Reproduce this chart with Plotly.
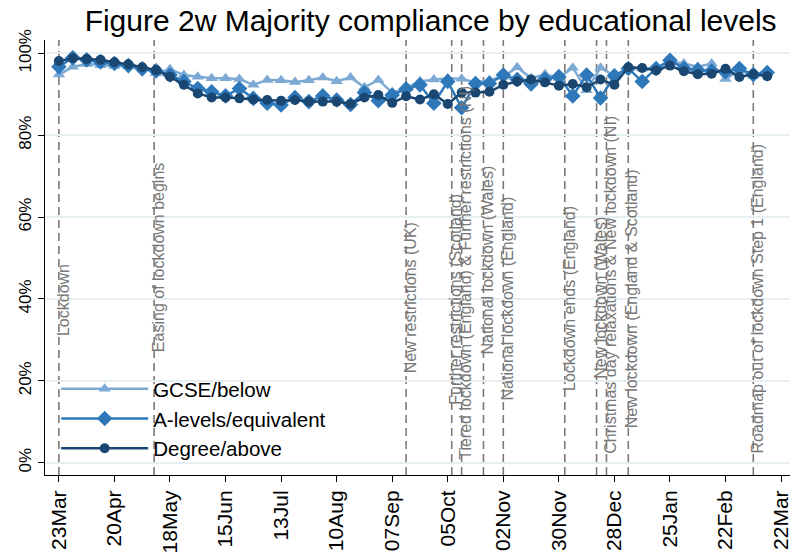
import datetime as dt
import plotly.graph_objects as go

# ---------------- data ----------------
start = dt.date(2020, 3, 23)
n_weeks = 52
dates = [start + dt.timedelta(days=7 * k) for k in range(n_weeks)]

gcse_below = [94.8, 96.7, 97.4, 97.1, 96.9, 96.9, 96.6, 95.1, 96.1, 94.7,
              94.3, 93.9, 93.9, 93.7, 92.3, 93.5, 93.4, 93.0, 93.4, 94.1,
              93.2, 94.1, 91.7, 93.5, 90.4, 91.5, 93.2, 93.6, 93.9, 93.8,
              92.9, 93.5, 94.3, 96.6, 93.9, 94.9, 94.0, 96.5, 91.0, 96.5,
              94.5, 96.5, 96.3, 96.3, 97.9, 97.5, 96.7, 97.5, 93.7, 95.9,
              94.5, 95.1]
a_levels = [96.7, 98.9, 98.4, 97.9, 97.5, 97.0, 96.2, 95.7, 94.7, 93.1,
            91.4, 90.6, 89.6, 91.4, 89.0, 87.8, 87.4, 89.2, 88.2, 89.6,
            88.6, 87.5, 90.4, 88.4, 89.8, 91.3, 92.3, 87.8, 93.1, 86.7,
            92.6, 92.6, 94.7, 93.6, 92.5, 93.7, 94.3, 89.6, 94.7, 89.1,
            94.5, 96.3, 93.1, 96.3, 98.3, 96.3, 95.9, 95.7, 95.5, 96.3,
            94.8, 95.3]
degree_above = [98.1, 98.8, 98.6, 98.4, 97.8, 97.3, 96.6, 95.9, 94.3, 92.3,
                90.2, 89.2, 89.2, 89.0, 88.7, 88.6, 88.4, 88.6, 88.2, 88.2,
                88.2, 87.6, 89.2, 89.8, 87.9, 89.5, 88.7, 90.0, 87.6, 90.4,
                90.4, 90.6, 92.3, 93.1, 93.6, 92.9, 92.1, 92.5, 91.7, 93.6,
                92.3, 96.6, 96.4, 95.8, 97.0, 95.6, 94.9, 95.0, 96.2, 94.2,
                94.9, 94.4]

series_names = ["GCSE/below", "A-levels/equivalent", "Degree/above"]

event_dates = ["2020-03-23", "2020-05-10", "2020-09-14", "2020-10-07",
               "2020-10-12", "2020-10-23", "2020-11-02", "2020-12-03",
               "2020-12-19", "2020-12-24", "2021-01-04", "2021-03-08"]
event_labels = ["Lockdown", "Easing of lockdown begins", "New restrictions (UK)",
                "Further restrictions (Scotland)",
                "Tiered lockdown (England) & Further restrictions (NI)",
                "National lockdown (Wales)", "National lockdown (England)",
                "Lockdown ends (England)", "New lockdown (Wales)",
                "Christmas day relaxations & New lockdown (NI)",
                "New lockdown (England & Scotland)",
                "Roadmap out of lockdown Step 1 (England)"]

tick_dates = [start + dt.timedelta(days=28 * k) for k in range(14)]
y_ticks = [0, 20, 40, 60, 80, 100]
y_tick_labels = ["0%", "20%", "40%", "60%", "80%", "100%"]

# ---------------- layout / style ----------------
label_centers = [39.7, 50.0, 40.2, 40.0, 46.3, 49.5, 40.2, 40.2, 40.2, 43.6, 40.0, 40.2]
colors = ["#7DAAD4", "#2E78BA", "#1A4771"]
symbols = ["triangle-up", "diamond", "circle"]
msizes = [11, 12, 10]
FONT = "Liberation Sans, Arial, sans-serif"

fig = go.Figure()
for name, vals, c, s, ms in zip(series_names, [gcse_below, a_levels, degree_above],
                                colors, symbols, msizes):
    fig.add_trace(go.Scatter(x=dates, y=vals, name=name, mode="lines+markers",
                             line=dict(color=c, width=2.5),
                             marker=dict(symbol=s, size=ms, color=c)))

for d, lab, yc in zip(event_dates, event_labels, label_centers):
    fig.add_shape(type="line", xref="x", yref="paper", x0=d, x1=d, y0=0, y1=1,
                  line=dict(color="#7a7a7a", width=1.6, dash="8px,5px"), layer="below")
    fig.add_annotation(x=d, y=yc, xref="x", yref="y", text=lab, textangle=-90,
                       showarrow=False, xanchor="center", yanchor="middle", xshift=4,
                       font=dict(family=FONT, size=16, color="#777777"))

fig.update_layout(
    width=796, height=552,
    margin=dict(l=45, r=6, t=40, b=77),
    paper_bgcolor="white", plot_bgcolor="white",
    font=dict(family=FONT, color="black"),
    title=dict(text="Figure 2w Majority compliance by educational levels",
               x=0.541, xref="container", xanchor="center",
               y=0.962, yref="container", yanchor="middle",
               font=dict(family=FONT, size=30, color="black")),
    showlegend=True,
    legend=dict(x=0.015, y=0.016, xanchor="left", yanchor="bottom",
                bgcolor="rgba(0,0,0,0)", itemwidth=87,
                font=dict(family=FONT, size=20.5, color="black"),
                tracegroupgap=0),
    xaxis=dict(type="date", range=["2020-03-16", "2021-03-26 12:00"],
               tickvals=tick_dates, tickformat="%d%b", tickangle=-90,
               ticks="outside", ticklen=6, tickcolor="black",
               showline=True, linecolor="black", linewidth=1,
               showgrid=False, zeroline=False, automargin=False,
               tickfont=dict(family=FONT, size=21, color="black")),
    yaxis=dict(range=[-3.0, 103.25], tickvals=y_ticks, ticktext=y_tick_labels,
               tickangle=-90, ticks="outside", ticklen=6, tickcolor="black",
               showline=True, linecolor="black", linewidth=1,
               showgrid=True, gridcolor="#e6eff2", gridwidth=1.5,
               zeroline=False, automargin=False,
               tickfont=dict(family=FONT, size=17, color="black")),
)

fig.write_html("out.html", config={"displayModeBar": False},
               post_script="document.body.style.margin='0';document.body.style.overflow='hidden';")
